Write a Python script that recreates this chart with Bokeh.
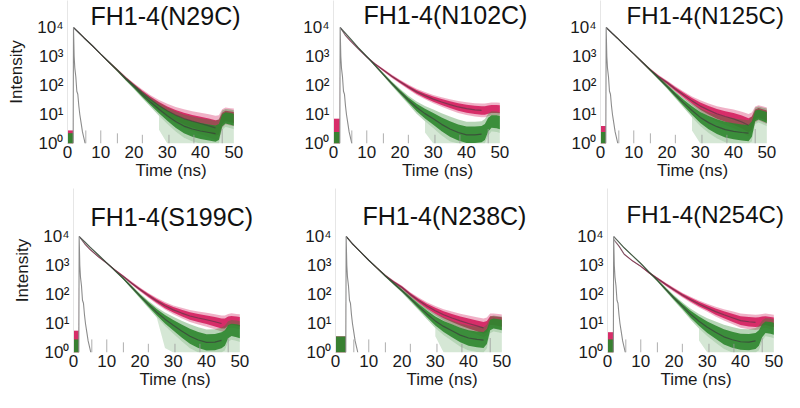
import numpy as np
from bokeh.plotting import figure
from bokeh.layouts import row, column
from bokeh.models import Label, FixedTicker, Range1d
from bokeh.embed import file_html
from bokeh.resources import INLINE

# ---------------- data (log10 intensity) ----------------
titles = ["FH1-4(N29C)", "FH1-4(N102C)", "FH1-4(N125C)",
          "FH1-4(S199C)", "FH1-4(N238C)", "FH1-4(N254C)"]

decay_t = [3.5, 5, 7.5, 10, 12.5, 15, 17.5, 20, 22.5, 25, 27.5, 30, 32.5, 35,
           37.5, 40, 42.5, 44.5, 45.5, 46.5, 47.5, 49, 50]

peak_time = [1.8, 2.0, 1.7, 1.7, 3.2, 1.85]
peak_red = [4.0, 4.0, 4.0, 4.0, 4.0, 3.9]
peak_green = [4.0, 4.0, 4.0, 4.0, 4.0, 4.0]
pre_red = [0.45, 0.85, 0.6, 0.75, 0.55, 0.7]
pre_green = [0.35, 0.4, 0.4, 0.45, 0.55, 0.45]
green_spike_from = [29, 29, 29, 28, 32, 29]

n29c_red = [3.81, 3.64, 3.37, 3.08, 2.80, 2.53, 2.25, 2.00, 1.75, 1.52, 1.31, 1.13,
            0.98, 0.86, 0.77, 0.69, 0.61, 0.54, 0.56, 0.86, 0.95, 0.92, 0.90]
n29c_green = [3.81, 3.64, 3.37, 3.08, 2.80, 2.52, 2.23, 1.96, 1.68, 1.42, 1.18, 0.96,
              0.76, 0.60, 0.50, 0.43, 0.38, 0.34, 0.40, 0.80, 0.88, 0.85, 0.82]

n102c_red = [3.74, 3.55, 3.26, 2.98, 2.74, 2.53, 2.32, 2.13, 1.95, 1.78, 1.65, 1.53,
             1.43, 1.34, 1.26, 1.20, 1.16, 1.14, 1.14, 1.17, 1.19, 1.19, 1.18]
n102c_green = [3.81, 3.62, 3.30, 3.00, 2.69, 2.38, 2.07, 1.78, 1.50, 1.24, 1.03, 0.85,
               0.66, 0.50, 0.38, 0.30, 0.30, 0.32, 0.40, 0.65, 0.76, 0.75, 0.72]

n125c_red = [3.80, 3.64, 3.36, 3.09, 2.81, 2.54, 2.30, 2.10, 1.88, 1.67, 1.47, 1.29,
             1.15, 1.02, 0.93, 0.85, 0.74, 0.63, 0.70, 1.00, 1.06, 1.00, 0.96]
n125c_green = [3.80, 3.64, 3.36, 3.09, 2.81, 2.53, 2.25, 1.97, 1.68, 1.40, 1.14, 0.90,
               0.72, 0.58, 0.48, 0.42, 0.38, 0.36, 0.50, 0.95, 1.00, 0.94, 0.90]

s199c_red = [3.73, 3.55, 3.30, 3.08, 2.84, 2.62, 2.39, 2.17, 1.97, 1.78, 1.61, 1.47,
             1.36, 1.26, 1.19, 1.13, 1.06, 1.00, 1.00, 1.08, 1.11, 1.08, 1.06]
s199c_green = [3.80, 3.63, 3.36, 3.09, 2.82, 2.55, 2.25, 1.95, 1.66, 1.39, 1.15, 0.94,
               0.74, 0.56, 0.43, 0.35, 0.36, 0.42, 0.50, 0.72, 0.78, 0.75, 0.72]

n238c_red = [3.96, 3.76, 3.47, 3.18, 2.91, 2.65, 2.43, 2.24, 2.00, 1.79, 1.60, 1.44,
             1.30, 1.19, 1.09, 1.00, 0.92, 0.85, 0.90, 1.10, 1.10, 1.07, 1.05]
n238c_green = [3.96, 3.76, 3.47, 3.18, 2.91, 2.64, 2.38, 2.13, 1.86, 1.59, 1.33, 1.09,
               0.90, 0.75, 0.60, 0.50, 0.45, 0.43, 0.55, 0.95, 1.00, 0.97, 0.95]

n254c_red = [3.66, 3.39, 3.16, 2.97, 2.75, 2.55, 2.35, 2.16, 1.98, 1.82, 1.67, 1.54,
             1.41, 1.30, 1.20, 1.10, 1.06, 1.04, 1.05, 1.08, 1.10, 1.06, 1.04]
n254c_green = [3.80, 3.61, 3.34, 3.07, 2.77, 2.49, 2.18, 1.88, 1.60, 1.32, 1.08, 0.87,
               0.70, 0.54, 0.44, 0.37, 0.36, 0.40, 0.50, 0.75, 0.87, 0.85, 0.82]

# instrument response (relative to peak time) and sparse floor counts
irf_dt = [-0.1, 0.0, 0.2, 0.4, 0.7, 1.0, 1.3, 1.6, 1.9, 2.3, 2.7, 3.1, 3.5]
irf_log = [0.0, 4.0, 3.0, 2.6, 2.3, 1.8, 1.7, 1.3, 1.0, 0.7, 0.4, 0.2, 0.0]
floor_t = [5.5, 10, 15, 22.5, 30.5, 38, 46.5]
floor_log = [0.45, 0.45, 0.35, 0.3, 0.3, 0.3, 0.5]

x_ticks = [0, 10, 20, 30, 40, 50]
y_ticks = [1, 10, 100, 1000, 10000]
y_labels = ["10\u2070", "10\u00b9", "10\u00b2", "10\u00b3", "10\u2074"]

reds = [n29c_red, n102c_red, n125c_red, s199c_red, n238c_red, n254c_red]
greens = [n29c_green, n102c_green, n125c_green, s199c_green, n238c_green, n254c_green]

# ---------------- style ----------------
RED = "#d41f5e"
GREEN = "#2e862e"
FIT = "#3a3a3a"
IRF = "#8c8c8c"
FONT = "Liberation Sans"
NOISE_LEVEL = [0.0, 0.5, 1.0, 1.5, 2.0, 2.5, 3.0, 4.0]
NOISE_HALF = [0.30, 0.27, 0.17, 0.09, 0.05, 0.03, 0.015, 0.01]
FW = 168            # px for 0..50.5 ns
DEC_PX = 29.0       # px per decade
X_END = 50.5


def pw(a):
    return np.power(10.0, np.asarray(a, dtype=float))


def band(pre, peak, cen, scale=1.0):
    cen = np.asarray(cen, dtype=float)
    w = np.interp(cen, NOISE_LEVEL, NOISE_HALF) * scale
    lo = np.concatenate([[0.0, 0.0, peak], np.clip(cen - w, 0.0, None)])
    hi = np.concatenate([[pre, pre, peak], cen + w])
    return lo, hi


def make_panel(k, left, frame_w, frame_h, bottom, ylabel, tx, ty, tsize):
    tp = peak_time[k]
    p = figure(frame_width=frame_w, frame_height=frame_h,
               x_range=Range1d(0, X_END * frame_w / FW),
               y_range=Range1d(1, 10 ** (frame_h / DEC_PX)), y_axis_type="log",
               output_backend="svg", toolbar_location=None, title=None,
               min_border_left=left, min_border_right=0,
               min_border_top=0, min_border_bottom=bottom,
               outline_line_color=None, background_fill_color="white",
               border_fill_color="white")
    t = np.array([0.0, tp - 0.1, tp] + decay_t)

    # red decay (soft outer noise + dense core)
    rlo2, rhi2 = band(pre_red[k], peak_red[k], reds[k], 1.6)
    rlo, rhi = band(pre_red[k], peak_red[k], reds[k])
    p.varea(x=t, y1=pw(rlo2), y2=pw(rhi2), fill_color=RED, fill_alpha=0.35)
    p.varea(x=t, y1=pw(rlo), y2=pw(rhi), fill_color=RED, fill_alpha=0.9)

    # green decay: sparse spikes to the floor, soft outer noise, dense core
    glo2, ghi2 = band(pre_green[k], peak_green[k], greens[k], 1.6)
    glo, ghi = band(pre_green[k], peak_green[k], greens[k])
    s = green_spike_from[k]
    m = t >= s - 3
    frac = np.clip((s - t[m]) / 3.0, 0.0, 1.0)
    p.varea(x=t[m], y1=pw(glo2[m] * frac), y2=pw(glo2[m]), fill_color=GREEN, fill_alpha=0.2)
    p.varea(x=t, y1=pw(glo2), y2=pw(ghi2), fill_color=GREEN, fill_alpha=0.35)
    p.varea(x=t, y1=pw(glo), y2=pw(ghi), fill_color=GREEN, fill_alpha=0.9)

    # fit curves
    n = 18
    ft = [tp] + decay_t[:n]
    p.line(ft, pw([peak_red[k]] + reds[k][:n]), line_color=FIT, line_alpha=0.55, line_width=1.2)
    p.line(ft, pw([peak_green[k]] + greens[k][:n]), line_color=FIT, line_alpha=0.7, line_width=1.2)

    # instrument response and sparse floor counts
    p.line(tp + np.array(irf_dt), pw(irf_log), line_color=IRF, line_width=1.1)
    p.segment(x0=floor_t, y0=np.ones(len(floor_t)), x1=floor_t, y1=pw(floor_log),
              line_color="#9a9a9a", line_width=1, line_alpha=0.8)

    p.grid.visible = False
    p.xaxis.ticker = FixedTicker(ticks=x_ticks)
    p.yaxis.ticker = FixedTicker(ticks=y_ticks)
    p.yaxis.major_label_overrides = {v: s for v, s in zip(y_ticks, y_labels)}
    for ax in (p.xaxis[0], p.yaxis[0]):
        ax.major_tick_line_color = None
        ax.minor_tick_line_color = None
        ax.major_tick_out = 0
        ax.minor_tick_out = 0
        ax.major_tick_in = 0
        ax.minor_tick_in = 0
        ax.major_label_text_font = FONT
        ax.major_label_text_font_size = "17px"
        ax.major_label_text_color = "#1a1a1a"
        ax.axis_label_text_font = FONT
        ax.axis_label_text_font_size = "17px"
        ax.axis_label_text_font_style = "normal"
        ax.axis_label_text_color = "#1a1a1a"
    p.xaxis.axis_line_color = None
    p.yaxis.axis_line_color = "#e6e6e6"
    p.xaxis.axis_label = "Time (ns)"
    p.xaxis.major_label_standoff = 2
    p.xaxis.axis_label_standoff = 0
    p.yaxis.major_label_standoff = 4
    p.yaxis.axis_label_standoff = 8
    if ylabel:
        p.yaxis.axis_label = "Intensity"

    p.add_layout(Label(x=tx, y=ty, x_units="screen", y_units="screen",
                       text=titles[k], text_font=FONT, text_font_size=tsize,
                       text_color="#111111", text_baseline="middle"))
    return p


# row 1: frames 0..143 px, row 2: frames 188..352 px
H1, B1 = 143, 45
H2, B2 = 164, 40
p1 = make_panel(0, 67, 207, H1, B1, True, 23, 128, "25px")
p2 = make_panel(1, 59, 208, H1, B1, False, 30, 129, "25px")
p3 = make_panel(2, 59, 184, H1, B1, False, 26, 128, "24px")
p4 = make_panel(3, 73, 203, H2, B2, True, 17, 136, "25px")
p5 = make_panel(4, 59, 213, H2, B2, False, 27, 137, "25px")
p6 = make_panel(5, 59, 177, H2, B2, False, 19, 138, "24px")

layout = column(row(p1, p2, p3), row(p4, p5, p6))
open("out.html", "w").write(file_html(layout, INLINE))
